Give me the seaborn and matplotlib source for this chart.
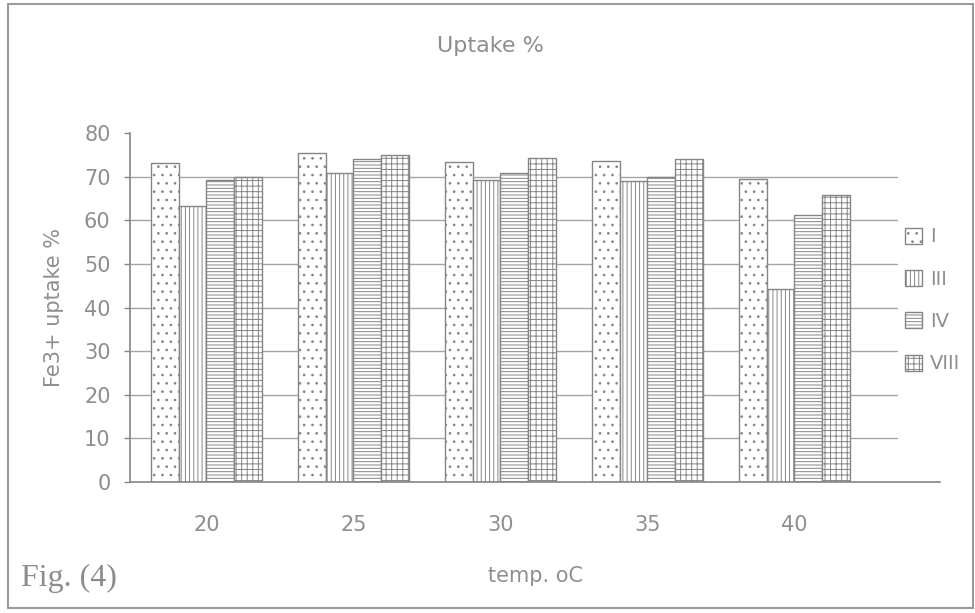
import matplotlib
matplotlib.use("Agg")
import matplotlib.pyplot as plt
import seaborn as sns
import pandas as pd
from matplotlib.patches import Rectangle, Patch

temps = ["20", "25", "30", "35", "40"]
series = ["I", "III", "IV", "VIII"]
vals_I = [73.2, 75.5, 73.3, 73.6, 69.5]
vals_III = [63.3, 70.9, 69.3, 68.9, 44.2]
vals_IV = [69.3, 74.0, 70.8, 69.8, 61.2]
vals_VIII = [69.8, 75.0, 74.2, 74.1, 65.7]
yticks = [0, 10, 20, 30, 40, 50, 60, 70, 80]

rows = []
for s, v in zip(series, [vals_I, vals_III, vals_IV, vals_VIII]):
    for t, x in zip(temps, v):
        rows.append({"temp": t, "series": s, "value": x})
df = pd.DataFrame(rows)

sns.set_theme(style="white")
plt.rcParams["font.family"] = ["DejaVu Sans"]
plt.rcParams["hatch.color"] = "#8a8a8a"
plt.rcParams["hatch.linewidth"] = 0.7

gray = "#858585"
tgray = "#8e8e8e"
fig = plt.figure(figsize=(9.75, 6.13), dpi=100)
# axes: left spine x=130, bottom y=482, top (80) y=133, right end x=940
ax = fig.add_axes([130 / 975, 1 - 482 / 613, 810 / 975, 349 / 613])

sns.barplot(data=df, x="temp", y="value", hue="series", order=temps,
            hue_order=series, ax=ax, width=0.75, gap=0.0,
            palette=["white"] * 4, edgecolor=gray, linewidth=1.0,
            legend=False, saturation=1)

hatches = ["..", "||||", "-----", "+++"]
for cont, h in zip(ax.containers, hatches):
    for bar in cont:
        bar.set_hatch(h)
        bar.set_edgecolor(gray)

ax.set_ylim(0, 80)
ax.set_yticks(yticks)
ax.set_xlim(-0.52, 4.99)
for yv in yticks[1:-1]:
    ax.axhline(yv, xmin=0, xmax=767 / 810, color="#a5a5a5", lw=1.0, zorder=0)

for side in ["top", "right"]:
    ax.spines[side].set_visible(False)
ax.spines["left"].set_color(gray)
ax.spines["bottom"].set_color(gray)
ax.spines["left"].set_linewidth(1.2)
ax.spines["bottom"].set_linewidth(1.2)
ax.tick_params(axis="y", colors=gray, labelcolor=tgray, labelsize=15, length=4,
               width=1, direction="out", left=True, pad=10)
ax.tick_params(axis="x", colors=gray, labelcolor=tgray, labelsize=15, length=0, pad=24)

ax.set_xlabel("temp. oC", color=tgray, fontsize=15, labelpad=22)
ax.set_ylabel("Fe3+ uptake %", color=tgray, fontsize=15, labelpad=14)
fig.text(0.503, 0.925, "Uptake %", ha="center", va="center", color=tgray, fontsize=16)
fig.text(0.022, 0.057, "Fig. (4)", ha="left", va="center", color="#8c8c8c",
         fontsize=23, family="Liberation Serif")

handles = [Patch(facecolor="white", edgecolor=gray, hatch=h, label=s)
           for h, s in zip(hatches, series)]
fig.legend(handles=handles, loc="center left", bbox_to_anchor=(0.91, 0.51),
           frameon=False, fontsize=14, labelcolor=tgray, handlelength=0.9,
           handleheight=0.9, handletextpad=0.4, labelspacing=1.2)

fig.patches.append(Rectangle((0.008, 0.008), 0.99, 0.985, transform=fig.transFigure,
                             fill=False, edgecolor="#9a9a9a", lw=1.5))

fig.savefig("out.png", dpi=100)
